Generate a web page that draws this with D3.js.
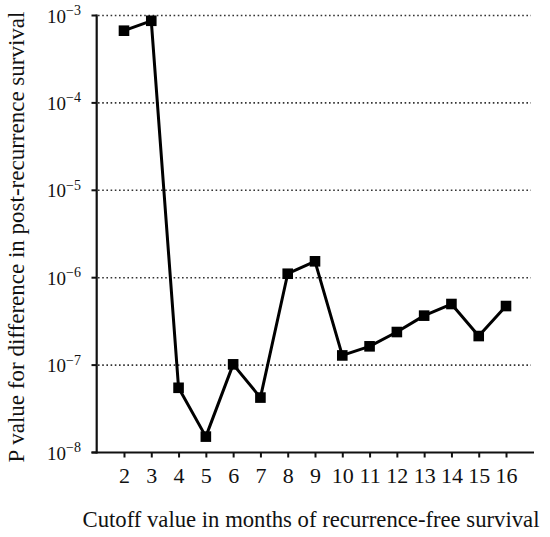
<!DOCTYPE html>
<html>
  <head>
    <meta charset="utf-8">
    <title>P value by cutoff</title>
    <script src="https://cdn.jsdelivr.net/npm/d3@7"></script>
    <style>
      body { margin: 0; background: #fff; }
      text { font-family: "Liberation Serif", "Times New Roman", serif; fill: #111; }
    </style>
  </head>
  <body>
    <script>

// data
var cutoffs = [2, 3, 4, 5, 6, 7, 8, 9, 10, 11, 12, 13, 14, 15, 16];
var pValues = [6.7e-4, 8.7e-4, 5.5e-8, 1.52e-8, 1.02e-7, 4.25e-8, 1.11e-6, 1.54e-6,
               1.29e-7, 1.64e-7, 2.39e-7, 3.68e-7, 5.0e-7, 2.15e-7, 4.74e-7];
var yExponents = [-3, -4, -5, -6, -7, -8];

var w = 550;
var h = 537;

var svg = d3.select("body")
  .append("svg")
  .attr("width", w)
  .attr("height", h);

// scales
var xScale = d3.scaleLinear()
  .domain([1, 17])
  .range([96.7, 533.3]);

var yScale = d3.scaleLog()
  .domain([1e-8, 1e-3])
  .range([452.5, 15.5]);

// dotted grid lines (not on the bottom decade, that's the axis)
svg.selectAll("line.grid")
  .data(yExponents.filter(function(e){ return e > -8; }))
  .enter()
  .append("line")
  .attr("class", "grid")
  .attr("x1", 98)
  .attr("x2", 531)
  .attr("y1", function(e){ return yScale(Math.pow(10, e)); })
  .attr("y2", function(e){ return yScale(Math.pow(10, e)); })
  .attr("stroke", "#333")
  .attr("stroke-width", 1.6)
  .attr("stroke-dasharray", "1.6,2.6");

// x axis
var xAxis = d3.axisBottom(xScale)
  .tickValues(cutoffs)
  .tickSize(5)
  .tickSizeOuter(0)
  .tickFormat(d3.format("d"));

var gx = svg.append("g")
  .attr("transform", "translate(0," + yScale(1e-8) + ")")
  .call(xAxis);
gx.select(".domain")
  .attr("d", "M91.5,0H534")
  .attr("stroke", "#111")
  .attr("stroke-width", 2.2);
gx.selectAll(".tick line").attr("stroke", "#111").attr("stroke-width", 2);
gx.selectAll(".tick text")
  .attr("y", 15)
  .attr("font-size", "22px")
  .attr("font-family", "Liberation Serif, serif")
  .attr("fill", "#111");

// y axis
var gy = svg.append("g");
gy.append("line")
  .attr("x1", 96.7).attr("x2", 96.7)
  .attr("y1", yScale(1e-3) - 1).attr("y2", yScale(1e-8) + 1)
  .attr("stroke", "#111")
  .attr("stroke-width", 2.2);

gy.selectAll("line.ytick")
  .data(yExponents)
  .enter()
  .append("line")
  .attr("class", "ytick")
  .attr("x1", 91.5).attr("x2", 96.7)
  .attr("y1", function(e){ return yScale(Math.pow(10, e)); })
  .attr("y2", function(e){ return yScale(Math.pow(10, e)); })
  .attr("stroke", "#111")
  .attr("stroke-width", 2);

var ylab = gy.selectAll("text.ylab")
  .data(yExponents)
  .enter()
  .append("text")
  .attr("class", "ylab")
  .attr("x", 47)
  .attr("y", function(e){ return yScale(Math.pow(10, e)) + 7; })
  .attr("font-size", "19px");
ylab.append("tspan").text("10");
ylab.append("tspan")
  .attr("dy", -7.5)
  .attr("font-size", "14px")
  .text(function(e){ return "\u2212" + Math.abs(e); });

// line + square markers
var line = d3.line()
  .x(function(d, i){ return xScale(cutoffs[i]); })
  .y(function(d){ return yScale(d); });

svg.append("path")
  .datum(pValues)
  .attr("d", line)
  .attr("fill", "none")
  .attr("stroke", "#000")
  .attr("stroke-width", 3)
  .attr("stroke-linejoin", "round");

svg.selectAll("rect.pt")
  .data(pValues)
  .enter()
  .append("rect")
  .attr("class", "pt")
  .attr("x", function(d, i){ return xScale(cutoffs[i]) - 5.3; })
  .attr("y", function(d){ return yScale(d) - 5.3; })
  .attr("width", 10.6)
  .attr("height", 10.6)
  .attr("fill", "#000");

// axis titles
svg.append("text")
  .attr("x", 311)
  .attr("y", 527)
  .attr("text-anchor", "middle")
  .attr("font-size", "22.7px")
  .text("Cutoff value in months of recurrence-free survival");

svg.append("text")
  .attr("transform", "translate(24,237) rotate(-90)")
  .attr("text-anchor", "middle")
  .attr("font-size", "23px")
  .text("P value for difference in post-recurrence survival");

    </script>
  </body>
</html>
